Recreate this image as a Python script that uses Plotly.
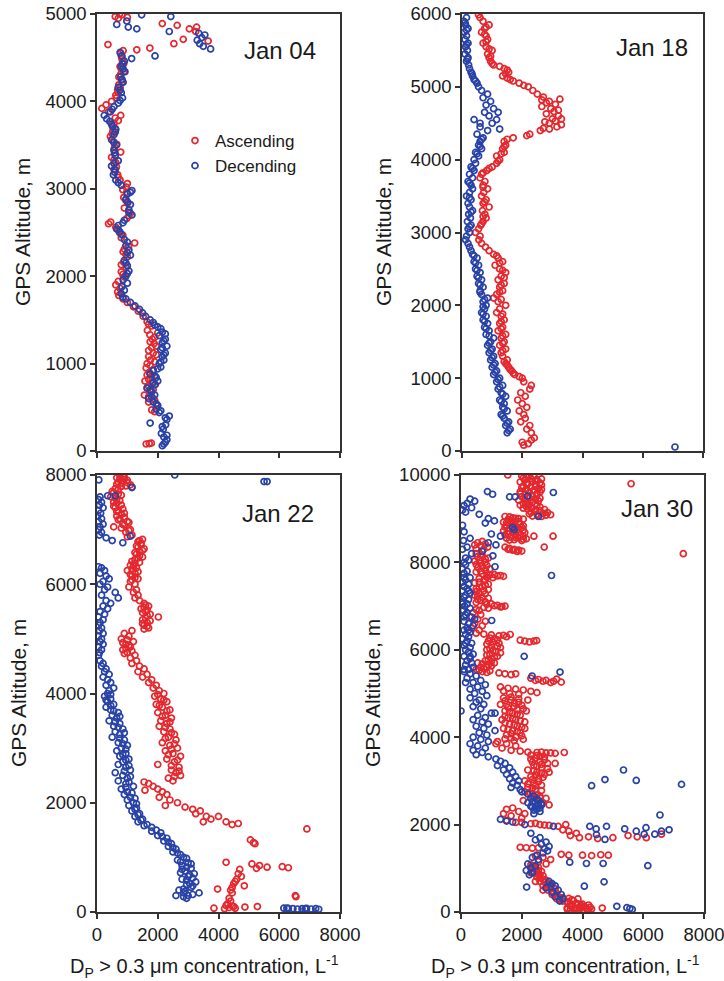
import plotly.graph_objects as go

# ---------------- data: (GPS altitude m, concentration L^-1) ----------------
jan04_ascending = [
    (80,1620),(85,1720),(90,1790),(450,1900),(520,1980),(560,1700),(600,1850),(640,1560),(680,1760),(720,1650),
    (760,1920),(800,1580),(850,1800),(900,1720),(950,1620),(1000,1650),(1040,1760),(1080,1700),(1120,1850),(1180,1800),
    (1230,1880),(1280,1820),(1330,1740),(1380,1660),(1430,1800),(1480,1650),(1540,1520),(1600,1360),(1650,1200),(1700,1000),
    (1740,860),(1780,720),(1820,680),(1860,760),(1900,620),(1940,700),(1990,900),(2050,800),(2100,960),(2160,880),
    (2220,1000),(2280,860),(2340,1040),(2380,1240),(2440,800),(2500,740),(2560,620),(2600,380),(2620,450),(2660,980),
    (2720,1100),(2780,900),(2840,1020),(2900,880),(2960,980),(3020,960),(3060,1000),(3100,760),(3160,680),(3220,560),
    (3300,620),(3360,480),(3420,780),(3480,580),(3540,540),(3600,440),(3660,520),(3720,500),(3780,700),(3840,780),
    (3880,380),(3920,160),(3960,300),(4000,480),(4040,640),(4100,700),(4160,760),(4220,820),(4280,720),(4340,880),
    (4400,760),(4460,840),(4520,800),(4580,860),(4610,1740),(4590,1310),(4650,360),(4660,2530),(4690,3660),(4710,2840),
    (4800,3250),(4830,3040),(4850,3280),(4870,2640),(4890,2150),(4950,700),(4970,600),(4990,820),(5000,740),(4960,1000),
    (470,1800),(580,1900),(620,1700),(700,1850),(740,1700),(780,1800),(820,1700),(870,1650),(930,1850),(980,1750),
    (1020,1900),(1100,1950),(1150,1700),(1200,1950),(1250,1750),(1300,1900),(1350,2000),(1450,1700),(2020,850),(2130,800),
    (2250,950),(2310,900),(2470,850),(2530,700),(2690,1050),(2870,950),(2990,850),(3130,700),(3250,640),(3330,560),
    (3450,560),(3510,650),(3630,500),(3690,600),(3750,560),(3810,600),(4070,620),(4130,680),(4190,720),(4250,820),
    (4310,780),(4370,800),(4430,880),(4490,820),(4550,780),
]
jan04_descending = [
    (60,2150),(100,2250),(130,2300),(160,2200),(200,2120),(250,2180),(300,2260),(320,1750),(360,2300),(400,2380),
    (440,2050),(480,1950),(520,2000),(560,1850),(600,1700),(640,1900),(680,1800),(720,1650),(760,1900),(800,2000),
    (840,1950),(880,1750),(920,1850),(960,2100),(1000,2050),(1040,2200),(1080,2150),(1120,2250),(1160,2100),(1200,2300),
    (1240,2150),(1280,2250),(1320,2050),(1360,2150),(1400,2100),(1440,1900),(1500,1750),(1540,1600),(1580,1500),(1620,1400),
    (1660,1250),(1700,1100),(1740,950),(1760,850),(1800,800),(1840,900),(1880,820),(1920,1000),(1960,860),(2000,950),
    (2060,1050),(2120,1000),(2180,900),(2240,1100),(2300,1050),(2350,950),(2420,900),(2480,800),(2540,650),(2580,700),
    (2640,900),(2700,1150),(2760,1050),(2820,1100),(2880,950),(2940,1000),(2980,1150),(3040,800),(3100,620),(3160,540),
    (3220,600),(3260,480),(3320,700),(3380,600),(3440,560),(3500,640),(3560,480),(3620,560),(3680,620),(3740,480),
    (3800,320),(3840,240),(3880,440),(3940,560),(3980,700),(4040,840),(4100,800),(4160,700),(4220,860),(4280,780),
    (4340,920),(4400,800),(4460,900),(4520,820),(4560,760),(4490,1140),(4520,1910),(4600,3740),(4630,3500),(4660,3380),
    (4700,3300),(4730,3450),(4760,3550),(4780,3350),(4800,2380),(4830,1310),(4850,1030),(4880,650),(4920,980),(4970,2430),
    (4990,1470),
    (80,2200),(180,2300),(280,2150),(380,2250),(460,2100),(540,1950),(620,1800),(700,1750),(780,1850),(860,1900),
    (940,2000),(1020,2100),(1100,2200),(1180,2150),(1260,2200),(1340,2250),(1420,2000),(1470,1850),(2030,1000),(2150,950),
    (2270,1000),(2390,1000),(2510,750),(2610,850),(2730,1050),(2850,1000),(2960,1100),(3070,700),(3190,580),(3290,560),
    (3410,580),(3530,560),(3650,600),(3710,520),(3770,420),(3910,500),(4010,760),(4130,760),(4250,820),(4370,860),
    (4430,840),
]
jan18_ascending = [
    (80,2050),(100,2200),(120,2000),(150,2300),(180,2400),(250,2300),(300,2150),(350,2250),(400,1950),(450,2100),
    (500,2050),(550,1900),(600,2150),(650,2000),(700,1850),(750,2100),(800,1950),(850,2250),(900,2300),(950,2050),
    (1000,2000),(1050,1750),(1100,1650),(1150,1550),(1200,1450),(1250,1500),(1300,1350),(1350,1300),(1400,1450),(1450,1250),
    (1500,1400),(1550,1300),(1600,1450),(1650,1200),(1700,1350),(1750,1250),(1800,1400),(1850,1300),(1900,1150),(1950,1250),
    (2000,1450),(2050,1200),(2100,1050),(2150,1150),(2200,1350),(2250,1250),(2300,1400),(2350,1200),(2400,1300),(2450,1450),
    (2500,1250),(2550,1100),(2600,1350),(2650,1200),(2700,1050),(2750,900),(2800,780),(2850,650),(2900,560),(2950,600),
    (3000,450),(3050,550),(3100,620),(3150,700),(3200,800),(3250,760),(3300,680),(3350,900),(3400,700),(3450,800),
    (3500,650),(3550,720),(3600,850),(3650,700),(3700,760),(3750,600),(3800,650),(3850,820),(3900,1000),(3950,1150),
    (4000,1250),(4050,1150),(4100,1400),(4150,1350),(4200,1450),(4250,1400),(4280,1500),(4300,1700),(4330,2150),(4350,2250),
    (4400,2600),(4430,2700),(4450,3150),(4480,3300),(4500,2900),(4530,3100),(4560,3000),(4600,3200),(4630,2800),(4660,3050),
    (4700,2950),(4730,2650),(4760,3100),(4800,2900),(4830,3250),(4860,2700),(4900,2500),(4950,2350),(5000,2200),(5050,1900),
    (5080,1700),(5120,1500),(5150,1350),(5200,1550),(5250,1400),(5280,1250),(5300,1050),(5350,950),(5400,900),(5450,850),
    (5500,1000),(5550,800),(5600,700),(5650,850),(5700,800),(5750,650),(5800,750),(5850,900),(5900,700),(5950,600),
    (5990,550),(4420,2900),(4560,3300),(4680,3200),(4820,2650),(4780,2800),(4520,2750),
    (1020,1900),(1070,1700),(1120,1600),(1180,1500),(1230,1400),(1380,1350),(1480,1350),(1580,1350),(1680,1300),(1780,1300),
    (1880,1350),(2080,1300),(2180,1250),(2280,1300),(2380,1400),(2480,1350),(2580,1250),(2680,1150),(3120,650),(3220,700),
    (3420,750),(3620,700),(3820,700),(3880,900),(3980,1200),(4080,1300),(4180,1400),(5020,2050),(5100,1600),(5180,1450),
    (5230,1500),(5320,1000),(5420,950),(5520,900),(5620,800),(5720,750),(5820,800),
]
jan18_descending = [
    (55,7070),(250,1500),(300,1600),(350,1450),(400,1550),(450,1400),(500,1300),(550,1500),(600,1350),(650,1400),
    (700,1250),(750,1450),(800,1300),(850,1200),(900,1350),(950,1150),(1000,1250),(1050,1050),(1100,1150),(1150,1000),
    (1200,1100),(1250,950),(1300,1050),(1350,900),(1400,1000),(1450,850),(1500,950),(1550,1050),(1600,800),(1650,900),
    (1700,750),(1750,850),(1800,700),(1850,800),(1900,650),(1950,750),(2000,800),(2050,700),(2100,850),(2150,650),
    (2200,600),(2250,700),(2300,550),(2350,650),(2400,500),(2450,600),(2500,450),(2550,550),(2600,400),(2650,500),
    (2700,350),(2750,300),(2800,250),(2850,200),(2900,120),(2950,150),(3000,250),(3050,200),(3100,300),(3150,180),
    (3200,280),(3250,220),(3300,350),(3350,250),(3400,200),(3450,300),(3500,150),(3550,250),(3600,350),(3650,300),
    (3700,200),(3750,350),(3800,250),(3850,400),(3900,300),(3950,450),(4000,400),(4050,550),(4100,450),(4150,650),
    (4200,550),(4250,600),(4300,700),(4350,500),(4400,850),(4420,1250),(4450,600),(4500,1000),(4550,1150),(4600,900),
    (4650,1200),(4700,1050),(4750,800),(4800,950),(4850,700),(4900,850),(4950,650),(5000,550),(5050,500),(5100,400),
    (5150,350),(5200,300),(5250,250),(5300,220),(5350,150),(5400,200),(5450,100),(5500,180),(5550,120),(5600,200),
    (5650,100),(5700,150),(5750,80),(5800,200),(5850,120),(5900,60),(5950,150),(4550,400),(4500,600),(4650,750),
    (280,1550),(380,1500),(480,1350),(580,1400),(680,1300),(780,1350),(880,1250),(980,1200),(1080,1100),(1180,1050),
    (1280,1000),(1380,950),(1480,900),(1580,900),(1680,800),(1780,750),(1880,700),(1980,700),(2080,750),(2180,600),
    (2280,600),(2380,550),(2480,500),(2580,450),(2680,400),(3080,250),(3280,300),(3480,250),(3680,250),(3880,350),
    (4080,500),(4180,600),(4280,650),(5080,450),(5180,330),(5380,180),(5580,150),(5780,150),(5880,100),
]
jan22_ascending = [
    (8000,750),(7980,850),(7950,650),(7920,900),(7900,1000),(7870,700),(7850,800),(7820,1100),(7800,950),(7780,1150),
    (7750,600),(7700,500),(7650,700),(7600,450),(7550,650),(7500,550),(7450,800),(7400,600),(7350,700),(7300,900),
    (7250,650),(7200,750),(7150,1000),(7100,850),(7050,550),(7000,1100),(6950,950),(6900,1150),(6870,1000),(6820,1500),
    (6780,1350),(6750,1450),(6700,1300),(6650,1550),(6600,1400),(6550,1300),(6500,1500),(6450,1250),(6400,1400),(6350,1100),
    (6300,1300),(6250,1000),(6200,1250),(6150,1150),(6100,1350),(6050,1100),(6000,1250),(5950,1050),(5900,1300),(5850,1200),
    (5800,1350),(5750,1250),(5700,1400),(5650,1550),(5600,1700),(5550,1450),(5500,1600),(5450,1750),(5400,2020),(5350,1500),
    (5300,1650),(5250,1550),(5200,1700),(5150,1150),(5100,900),(5050,1050),(5000,800),(4950,1200),(4900,950),(4850,1100),
    (4800,850),(4750,1000),(4700,1250),(4650,1100),(4600,1300),(4550,1150),(4500,1400),(4450,1550),(4400,1350),(4350,1650),
    (4300,1500),(4250,1800),(4200,1700),(4150,1950),(4100,1850),(4050,2050),(4000,2200),(3950,1900),(3900,2100),(3850,2300),
    (3800,1950),(3750,2150),(3700,2400),(3650,2000),(3600,2250),(3550,2450),(3500,2100),(3450,2300),(3400,2050),(3350,2400),
    (3300,2200),(3250,2550),(3200,2350),(3150,2600),(3100,2150),(3050,2400),(3000,2650),(2950,2250),(2900,2500),(2850,2750),
    (2800,2300),(2750,2550),(2700,2000),(2650,2700),(2600,2450),(2550,2600),(2500,2750),(2450,2350),(2400,2500),(2380,1550),
    (2350,1700),(2300,1850),(2250,2000),(2230,1580),(2200,2150),(2150,2300),(2100,2050),(2050,2400),(2000,2650),(1950,2250),
    (1920,2900),(1880,3150),(1850,3400),(1800,3250),(1750,3600),(1700,3750),(1650,3500),(1750,4000),(1650,4250),(1600,4450),
    (1620,4650),(1520,6910),(1320,5050),(1270,5150),(1250,5200),(910,4250),(880,5100),(850,5350),(820,5600),(800,5250),
    (830,6100),(810,6300),(780,4700),(700,4650),(650,4750),(600,4600),(560,4550),(520,4500),(480,4850),(450,4450),
    (420,3970),(400,4400),(350,4450),(300,6530),(280,6550),(250,4350),(200,4400),(150,4300),(120,4250),(100,4500),
    (80,4350),(70,3850),(90,4870),(100,5280),(60,4200),(110,4450),(70,4550),
    (7960,900),(7930,750),(7890,850),(7860,1000),(7830,650),(7790,800),(7730,700),(7680,550),(7630,800),(7580,600),
    (7530,750),(7480,650),(7430,550),(7380,850),(7330,650),(7280,800),(7230,900),(7180,700),(7130,1050),(7080,900),
    (7030,800),(6980,1050),(6800,1400),(6720,1450),(6680,1350),(6620,1500),(6580,1250),(6520,1400),(6480,1350),(6420,1150),
    (6380,1250),(6330,1200),(6280,1150),(6230,1350),(6180,1100),(6120,1250),(6080,1150),(5620,1600),(5580,1550),(5530,1650),
    (5480,1500),(5430,1650),(5380,1600),(5330,1750),(5280,1500),(5230,1650),(5180,1550),(4980,1000),(4930,850),(4880,1050),
    (4830,950),(4780,1150),(4730,900),(3980,2000),(3880,2200),(3780,2050),(3680,2300),(3580,2150),(3480,2400),(3380,2250),
    (3280,2450),(3180,2250),(3080,2550),(2980,2450),(2880,2350),(2780,2650),(2680,2450),(2580,2700),(2480,2550),
]
jan22_descending = [
    (8000,2560),(7910,60),(7880,5500),(7880,5600),(7770,1150),(7620,350),(7620,600),(7600,100),(7550,50),(7500,150),
    (7450,80),(7400,200),(7350,50),(7300,120),(7250,30),(7200,150),(7150,60),(7100,200),(7050,100),(7000,50),
    (6950,150),(6900,80),(6850,300),(6800,500),(6760,850),(6880,1100),(6320,50),(6300,150),(6250,250),(6200,100),
    (6150,300),(6100,400),(6050,200),(6000,100),(5950,350),(5900,250),(5850,600),(5800,150),(5750,700),(5700,300),
    (5650,450),(5600,200),(5550,350),(5500,100),(5450,250),(5400,50),(5350,200),(5300,100),(5250,50),(5200,150),
    (5150,80),(5100,200),(5050,50),(5000,150),(4950,100),(4900,200),(4850,60),(4800,150),(4750,80),(4700,50),
    (4600,100),(4550,200),(4500,150),(4450,300),(4400,250),(4350,400),(4300,200),(4250,350),(4200,450),(4150,300),
    (4100,550),(4050,400),(4000,350),(3950,250),(3900,450),(3850,350),(3800,550),(3750,300),(3700,450),(3650,700),
    (3600,500),(3550,650),(3500,400),(3450,750),(3400,550),(3350,850),(3300,600),(3250,750),(3200,500),(3150,900),
    (3100,700),(3050,1000),(3000,800),(2950,650),(2900,950),(2850,750),(2800,1050),(2750,850),(2700,700),(2650,950),
    (2600,1100),(2550,600),(2500,850),(2450,1000),(2400,700),(2350,950),(2300,1200),(2250,800),(2200,1000),(2150,900),
    (2100,1100),(2050,1000),(2000,1200),(1950,1050),(1900,1300),(1850,1150),(1800,1400),(1750,1250),(1700,1500),(1650,1350),
    (1600,1650),(1550,1800),(1500,1950),(1450,2100),(1400,2000),(1350,2300),(1300,2200),(1250,2450),(1200,2350),(1150,2600),
    (1100,2500),(1050,2750),(1000,2850),(950,2650),(900,3000),(850,2800),(800,3100),(750,2900),(700,3200),(650,3000),
    (600,2800),(550,3250),(500,2950),(450,3100),(400,2700),(350,2850),(300,3000),(350,3360),(250,2950),(300,2600),
    (70,6150),(65,6300),(60,6450),(55,6600),(60,6750),(65,6900),(55,7050),(60,7200),(50,7300),(70,6250),(60,6850),
    (3980,450),(3880,300),(3780,450),(3680,550),(3580,750),(3480,600),(3380,700),(3280,900),(3180,750),(3080,850),
    (2980,950),(2880,850),(2780,950),(2680,1050),(2580,900),(2480,1100),(2380,1050),(2280,950),(2180,1150),(2080,1250),
    (1980,1300),(1880,1250),(1780,1350),(1680,1450),(1580,1550),(1480,1800),(1380,2150),(1280,2350),(1180,2500),(1080,2650),
    (980,2950),(880,3100),(780,2800),(680,3050),(580,2950),(480,3150),(380,2900),(280,2850),(920,2750),(820,2950),
    (720,2750),(620,3150),(520,3050),(420,2850),(320,3150),
]
jan30_ascending = [
    (10000,1540),(9980,2000),(9950,2150),(9920,2300),(9900,2500),(9880,2100),(9850,2350),(9820,2600),(9800,2200),(9780,2450),
    (9750,2050),(9720,2300),(9700,2550),(9680,2150),(9650,2400),(9620,1950),(9600,2250),(9580,2500),(9550,2100),(9520,2350),
    (9500,2000),(9480,2250),(9450,2450),(9420,1900),(9400,2150),(9380,2350),(9350,2050),(9320,2250),(9300,2500),(9280,2150),
    (9250,2350),(9220,2200),(9200,2450),(9180,2600),(9150,2300),(9120,2700),(9100,2500),(9080,2800),(9060,2350),(9050,2650),
    (9050,1450),(9020,1700),(9000,1900),(8980,1550),(8950,1800),(8920,1400),(8900,1650),(8880,1950),(8850,1500),(8820,1750),
    (8800,2000),(8780,1600),(8750,1850),(8720,1400),(8700,1700),(8680,2100),(8650,1550),(8620,1800),(8600,2050),(8580,1650),
    (8560,1900),(8540,2150),(8520,1750),(8500,2000),(8600,2400),(8600,3030),(8350,1450),(8320,1600),(8300,1750),(8280,1900),
    (8260,2000),(8300,1550),(8280,1700),(8250,1850),(8350,2740),(8480,700),(8450,550),(8420,800),(8400,450),(8380,650),
    (8350,880),(8320,500),(8300,750),(8200,500),(8150,700),(8100,900),(8050,600),(8000,800),(7950,500),(7900,700),
    (7850,950),(7800,650),(7750,850),(7720,1100),(7700,1300),(7680,1400),(7650,1050),(7600,800),(7550,600),(7500,900),
    (7450,700),(7400,500),(7350,750),(7300,600),(7250,450),(7200,700),(7150,550),(7100,800),(7050,1000),(7020,1200),
    (7000,1450),(6980,1300),(6950,900),(6900,600),(6850,400),(6800,650),(6750,300),(6700,550),(6650,800),(6600,450),
    (6550,700),(6500,350),(6450,600),(6380,500),(6360,750),(6340,1000),(6320,1250),(6300,1500),(6350,1620),(6330,1400),
    (6220,1950),(6200,2100),(6180,2250),(6200,2400),(6210,2490),(6250,1100),(6200,900),(6150,1250),(6100,1000),(6050,1300),
    (6000,850),(5950,1150),(5900,950),(5850,1200),(5800,1000),(5750,800),(5700,1100),(5650,900),(5600,650),(5550,500),
    (5700,550),(5600,850),(5500,700),(5470,1250),(5450,1450),(5430,1650),(5450,1800),(5350,2300),(5320,2550),(5300,2800),
    (5280,3050),(5260,3300),(5300,2450),(5280,2700),(5250,2950),(5330,3150),(5150,1300),(5120,1550),(5100,1800),(5080,2050),
    (5050,2300),(5020,2500),(5000,1600),(4980,1900),(5060,1400),(4900,1400),(4850,1650),(4800,1900),(4750,1500),(4700,1750),
    (4650,2050),(4600,1450),(4550,1700),(4500,1950),(4450,1550),(4400,1800),(4350,2100),(4300,1600),(4250,1850),(4200,1400),
    (4150,1700),(4100,1950),(4050,1500),(4000,1800),(3950,2050),(4850,2200),(4600,2150),(4200,2100),(4750,1300),(4400,1350),
    (3900,1200),(3850,1500),(3800,1800),(3750,1350),(3700,1650),(3680,1950),(3850,1150),(3660,2200),(3650,2500),(3640,2800),
    (3630,3100),(3650,3400),(3660,2650),(3640,2950),(3580,2500),(3550,2750),(3500,2300),(3450,2600),(3400,2850),(3350,2400),
    (3300,2650),(3250,2200),(3200,2500),(3150,2750),(3100,2300),(3050,2550),(3000,2100),(2950,2400),(2900,2650),(2850,2200),
    (2800,2450),(2750,2100),(2700,2350),(2650,2600),(3400,3100),(3200,2900),(2600,2800),(2500,2700),(2450,2900),(2550,2050),
    (2380,1700),(2350,1500),(2300,1900),(2250,1400),(2200,1650),(2150,2000),(2100,1500),(2050,1800),(2250,2100),(2050,2000),
    (2020,2300),(2000,2600),(1980,2900),(1960,3200),(2000,3450),(1990,2750),(2030,2450),(1880,3350),(1850,3550),(1800,3800),
    (1750,3600),(1700,3900),(1720,4200),(1680,4500),(1700,5000),(1750,5500),(1720,5800),(1700,6100),(1780,6600),(1480,1950),
    (1470,2150),(1460,2350),(1470,2550),(1320,3300),(1300,3550),(1300,4000),(1290,4300),(1310,4600),(1300,4850),(1280,2450),
    (1250,2700),(1200,2950),(1150,2550),(1100,2800),(1050,2400),(1080,2300),(1040,2450),(1000,2350),(950,2550),(900,2400),
    (850,2600),(800,2500),(750,2700),(700,2600),(650,2850),(600,2700),(550,2950),(500,2850),(450,3050),(400,3000),
    (350,3200),(300,3150),(250,3350),(220,3500),(280,3650),(300,3850),(900,2300),(700,2450),(500,2700),(200,3800),
    (180,4000),(160,4200),(140,3600),(120,3900),(100,4100),(90,3500),(80,3700),(70,4300),(60,3900),(50,4000),
    (90,4650),(150,3950),(110,4250),(9800,5600),(8200,7320),
    (9990,2250),(9960,2400),(9930,2050),(9910,2650),(9870,2450),(9840,1950),(9810,2150),(9770,2650),(9740,2450),(9710,2000),
    (9670,2650),(9640,2200),(9610,2600),(9570,1950),(9540,2500),(9510,2200),(9470,2600),(9440,2100),(9410,2550),(9370,2200),
    (9340,2450),(9310,1950),(9270,2600),(9240,2050),(9210,2750),(9170,2450),(9140,2850),(9110,2250),(9090,2950),(9070,2550),
    (9040,1600),(9010,1800),(8990,2050),(8960,1650),(8930,1900),(8910,1500),(8870,1700),(8840,2050),(8810,1450),(8770,1800),
    (8740,2050),(8710,1550),(8690,1900),(8660,1750),(8630,1450),(8610,1950),(8570,1800),(8550,1500),(8530,2050),(8510,1600),
    (8180,650),(8130,550),(8080,800),(8030,450),(7980,650),(7930,850),(7880,550),(7830,800),(7780,500),(7740,700),
    (7710,950),(7690,1200),(7660,850),(7630,600),(7580,750),(7530,450),(7480,800),(7430,600),(7380,900),(7330,500),
    (7280,800),(7230,550),(7180,900),(7130,650),(7080,500),(7040,850),(7010,1100),(6990,1350),(6970,750),(6920,500),
    (6270,950),(6230,1200),(6180,1050),(6130,850),(6080,1200),(6030,950),(5980,1050),(5930,1300),(5880,850),(5830,1100),
    (5780,900),(5730,1000),(5680,700),(5630,1000),(5580,750),(5530,600),(5480,850),(5520,950),
    (4920,1650),(4880,1900),(4830,1450),(4780,1750),(4730,2000),(4680,1550),(4630,1850),(4580,1600),(4530,1850),(4480,1450),
    (4430,1700),(4380,1950),(4330,1450),(4280,1750),(4230,2000),(4180,1550),(4130,1850),(4080,1650),(4030,2000),(3980,1650),
    (3960,1450),(3920,1750),
    (3590,2300),(3560,2600),(3520,2450),(3480,2750),(3430,2350),(3380,2650),(3330,2500),(3280,2850),(3230,2400),(3180,2650),
    (3130,2450),(3080,2700),(3030,2350),(2980,2550),(2930,2200),(2880,2450),(2830,2350),(2780,2650),(2730,2250),(2680,2500),
    (2630,2350),(2610,2600),
    (1060,2350),(1020,2550),(980,2450),(930,2650),(880,2500),(830,2700),(780,2600),(730,2800),(680,2750),(630,2950),
    (580,2850),(530,3100),(480,3000),(430,3150),(380,3150),(330,3350),(270,3250),(240,3500),(310,3550),(260,3700),
    (190,3600),(170,3850),(130,4050),(60,3600),(75,4150),(85,3800),(65,3500),(55,4200),(95,3950),(115,3650),
]
jan30_descending = [
    (9620,870),(9560,1040),(9600,3040),(9500,1600),(9500,1780),(9520,2190),(9050,2550),(9450,300),(9400,450),(9350,200),
    (9300,100),(9250,350),(9200,50),(9150,150),(9100,600),(9000,900),(8950,1100),(8900,800),(8850,50),(8800,1700),
    (8750,1750),(8700,100),(8650,1000),(8600,1300),(8550,300),(8500,80),(8450,900),(8400,1150),(8350,200),(8300,50),
    (8250,700),(8200,350),(8150,1050),(8100,150),(8050,250),(8000,100),(7900,1120),(7850,50),(7800,200),(7700,2980),
    (7750,100),(7650,300),(7600,150),(7550,50),(7500,250),(7450,100),(7400,200),(7350,50),(7300,300),(7250,150),
    (7200,100),(7150,250),(7100,50),(7050,200),(7000,120),(6950,300),(6900,80),(6850,200),(6800,150),(6750,350),
    (6700,450),(6670,1010),(6650,100),(6600,250),(6550,400),(6500,200),(6450,100),(6400,300),(6350,150),(6300,250),
    (6250,50),(6200,200),(6150,350),(6100,100),(6050,300),(6000,150),(5950,250),(5900,400),(5850,2080),(5850,100),
    (5800,300),(5750,200),(5700,350),(5650,150),(5600,400),(5550,250),(5500,100),(5490,3260),(5400,2340),(5450,300),
    (5400,500),(5350,200),(5300,650),(5250,400),(5200,800),(5150,550),(5100,300),(5050,700),(5000,450),(4950,850),
    (4900,300),(4850,600),(4800,500),(4750,750),(4700,400),(4650,650),(4600,0),(4550,1000),(4550,1120),(4500,550),
    (4450,800),(4400,400),(4350,700),(4300,900),(4250,500),(4200,750),(4150,1120),(4100,600),(4050,850),(4000,400),
    (3950,650),(3900,900),(3850,300),(3800,550),(3750,800),(3700,400),(3650,700),(3600,500),(3550,900),(3500,1150),
    (3450,1300),(3400,1450),(3350,1200),(3300,1600),(3250,1400),(3200,1700),(3150,1500),(3100,1800),(3050,1600),(3000,1900),
    (2950,1700),(2900,1850),(2850,1650),(2800,1950),(2750,2000),(2700,2200),(2650,2400),(2600,2300),(2550,2550),(2500,2450),
    (2450,2650),(2400,2350),(2350,2500),(2300,2600),(2250,2400),(2500,2200),(2890,4300),(3030,4740),(3250,5350),(3010,5770),
    (2920,7260),(2220,6550),(2120,1300),(2080,1500),(2060,1700),(2000,2100),(1960,3040),(1960,4240),(1900,4450),(1960,4790),
    (1900,5390),(1850,5770),(1930,6090),(1780,6030),(1780,6380),(1850,6600),(1880,6850),(1770,4460),(1660,4740),(1800,2300),
    (1700,2600),(1650,2450),(1600,2800),(1550,2650),(1500,2900),(1450,2750),(1400,2850),(1350,2700),(1300,2500),(1250,2350),
    (1200,2550),(1140,3580),(1110,4130),(1110,4680),(1060,6150),(1100,2200),(1050,2450),(1000,2300),(950,2150),(900,2350),
    (850,2250),(570,2160),(690,4710),(590,4060),(700,2900),(650,3000),(600,3100),(550,2800),(500,3200),(450,3000),
    (400,3300),(350,3100),(300,3350),(250,3250),(130,5130),(100,5460),(80,5560),(60,5640),
    (7950,150),(7650,100),(7350,250),(7050,50),(6750,100),(6450,250),(6150,150),(5850,300),(5550,100),(5250,150),
    (2580,2500),(2520,2350),(2470,2550),(2420,2450),(2380,2600),(2330,2400),(2480,2650),(2420,2300),
]

panel_titles = ["Jan 04", "Jan 18", "Jan 22", "Jan 30"]
panel_ymax = [5000, 6000, 8000, 10000]
panel_dtick = [1000, 1000, 2000, 2000]
x_ticks = [0, 2000, 4000, 6000, 8000]
series_names = ["Ascending", "Decending"]

panels = [
    (jan04_ascending, jan04_descending),
    (jan18_ascending, jan18_descending),
    (jan22_ascending, jan22_descending),
    (jan30_ascending, jan30_descending),
]

# ---------------- layout geometry (pixels) ----------------
W, H = 724, 981
RED = "rgb(228,40,46)"
BLUE = "rgb(40,66,166)"
FONT = "Liberation Sans, Arial, Helvetica, sans-serif"
TXT = "#1a1a1a"

px_x = [(97, 340), (462, 703), (97, 340), (461, 704)]
px_y = [(14, 451), (14, 451), (475, 912), (475, 912)]

fig = go.Figure()

for i, (asc, desc) in enumerate(panels):
    sfx = "" if i == 0 else str(i + 1)
    for j, (data, color) in enumerate([(asc, RED), (desc, BLUE)]):
        fig.add_trace(go.Scatter(
            x=[c for a, c in data],
            y=[a for a, c in data],
            mode="markers",
            name=series_names[j],
            showlegend=(i == 0),
            xaxis="x" + sfx, yaxis="y" + sfx,
            marker=dict(symbol="circle-open", size=6, color=color,
                        line=dict(width=1.7, color=color)),
        ))

axis_common = dict(showgrid=False, zeroline=False, showline=True, mirror=True,
                   automargin=False, ticklabeloverflow="allow",
                   linecolor="#333333", linewidth=1.5, ticks="outside", ticklen=5,
                   tickwidth=1.5, tickcolor="#333333", tickformat="d",
                   tickfont=dict(family=FONT, size=18.5, color=TXT))

layout = dict(template="none", width=W, height=H, margin=dict(l=0, r=0, t=0, b=0),
              paper_bgcolor="white", plot_bgcolor="white",
              font=dict(family=FONT, color=TXT))

for i in range(4):
    sfx = "" if i == 0 else str(i + 1)
    x0, x1 = px_x[i]
    y0, y1 = px_y[i]
    layout["xaxis" + sfx] = dict(axis_common, domain=[x0 / W, x1 / W], range=[0, 8000],
                                 tickvals=x_ticks, showticklabels=(i >= 2),
                                 anchor="y" + sfx)
    layout["yaxis" + sfx] = dict(axis_common, domain=[1 - y1 / H, 1 - y0 / H],
                                 range=[0, panel_ymax[i]], dtick=panel_dtick[i], tick0=0,
                                 anchor="x" + sfx)

layout["legend"] = dict(x=175 / W, y=1 - 123 / H, xanchor="left", yanchor="top",
                        bgcolor="rgba(0,0,0,0)", borderwidth=0,
                        font=dict(family=FONT, size=17, color=TXT),
                        tracegroupgap=0, itemwidth=30)

ann = []
title_pos = [(318, 51), (690, 48), (316, 513), (695, 508)]
for i, (tx, ty) in enumerate(title_pos):
    ann.append(dict(text=panel_titles[i], xref="paper", yref="paper", x=tx / W, y=1 - ty / H,
                    xanchor="right", yanchor="middle", showarrow=False,
                    font=dict(family=FONT, size=24, color=TXT)))
ytitle_pos = [(22, 232), (383, 232), (18, 693), (372, 693)]
for tx, ty in ytitle_pos:
    ann.append(dict(text="GPS Altitude, m", xref="paper", yref="paper", x=tx / W, y=1 - ty / H,
                    xanchor="center", yanchor="middle", textangle=-90, showarrow=False,
                    font=dict(family=FONT, size=21, color=TXT)))
xtitle = "D<sub>P</sub> &gt; 0.3 \u03bcm concentration, L<sup>-1</sup>"
for tx in (204, 565):
    ann.append(dict(text=xtitle, xref="paper", yref="paper", x=tx / W, y=1 - 966 / H,
                    xanchor="center", yanchor="middle", showarrow=False,
                    font=dict(family=FONT, size=20, color=TXT)))
layout["annotations"] = ann

fig.update_layout(**layout)
fig.write_html("out.html", config={"displayModeBar": False},
               post_script="document.body.style.margin='0';document.body.style.padding='0';")
